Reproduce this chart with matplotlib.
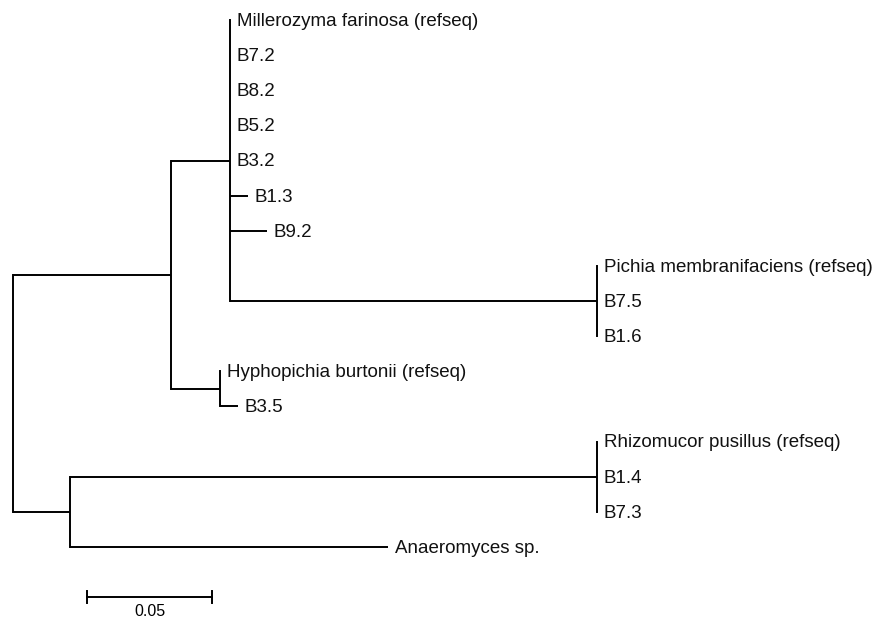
import matplotlib
matplotlib.use('Agg')
import matplotlib.pyplot as plt

# tree as (node, parent, branch length); leaves carry the taxon labels
nodes = ["root", "A", "M",
         "Millerozyma farinosa (refseq)", "B7.2", "B8.2", "B5.2", "B3.2",
         "B1.3", "B9.2", "P",
         "Pichia membranifaciens (refseq)", "B7.5", "B1.6",
         "H", "Hyphopichia burtonii (refseq)", "B3.5",
         "L", "R", "Rhizomucor pusillus (refseq)", "B1.4", "B7.3",
         "Anaeromyces sp."]
parents = [None, "root", "A",
           "M", "M", "M", "M", "M",
           "M", "M", "M",
           "P", "P", "P",
           "A", "H", "H",
           "root", "L", "R", "R", "R",
           "L"]
branch_len = [0.0, 0.0632, 0.0236,
              0.0, 0.0, 0.0, 0.0, 0.0,
              0.0072, 0.0148, 0.1468,
              0.0, 0.0, 0.0,
              0.0196, 0.0, 0.0072,
              0.0228, 0.2108, 0.0, 0.0, 0.0,
              0.1272]
internal = ["root", "A", "M", "P", "H", "L", "R"]
scale_len = 0.05
scale_label = "0.05"

children = {n: [] for n in nodes}
for n, p in zip(nodes, parents):
    if p is not None:
        children[p].append(n)
blen = dict(zip(nodes, branch_len))

xpos, ypos = {}, {}
leaf_count = [0]


def layout(n, x0):
    xpos[n] = x0 + blen[n]
    if not children[n]:
        ypos[n] = leaf_count[0]
        leaf_count[0] += 1
    else:
        for c in children[n]:
            layout(c, xpos[n])
        ypos[n] = (ypos[children[n][0]] + ypos[children[n][-1]]) / 2.0


layout("root", 0.0)

fig = plt.figure(figsize=(8.76, 6.19), dpi=100)
ax = fig.add_axes([0, 0, 1, 1])
ax.set_xlim(-0.0052, 0.3452)
ax.set_ylim(17.05, -0.57)
ax.axis('off')

lw = 1.4
for n, p in zip(nodes, parents):
    if p is None:
        continue
    ax.plot([xpos[p], xpos[n]], [ypos[n], ypos[n]], color='black', lw=lw,
            solid_capstyle='butt')
for n in internal:
    kids = children[n]
    ax.plot([xpos[n], xpos[n]], [ypos[kids[0]], ypos[kids[-1]]],
            color='black', lw=lw, solid_capstyle='projecting')

for n in nodes:
    if children[n]:
        continue
    ax.annotate(n, (xpos[n], ypos[n]), xytext=(5, -1),
                textcoords='offset points', va='center', ha='left',
                fontsize=13.5, family='Liberation Sans', color='#111111')

# scale bar
sx0, sy = 0.0296, 16.42
ax.plot([sx0, sx0 + scale_len], [sy, sy], color='black', lw=lw)
for xx in (sx0, sx0 + scale_len):
    ax.plot([xx, xx], [sy - 0.17, sy + 0.17], color='black', lw=lw)
ax.text(sx0 + scale_len / 2, sy + 0.43, scale_label, ha='center',
        va='center', fontsize=11.5, family='Liberation Sans')

fig.savefig('out.png', dpi=100)
